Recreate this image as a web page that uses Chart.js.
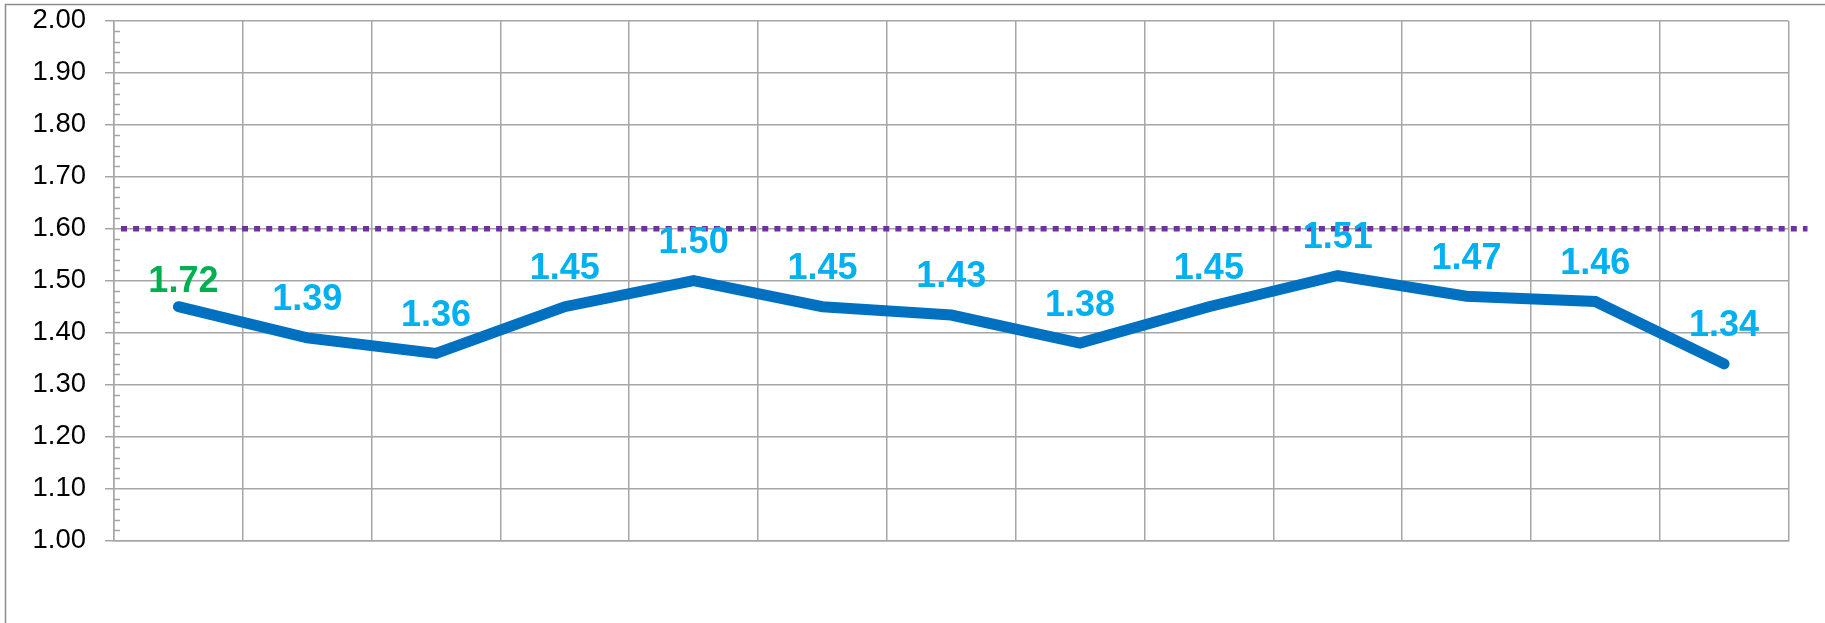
<!DOCTYPE html>
<html lang="en">
<head>
    <meta charset="UTF-8">
    <title>Line chart with target</title>
    <script src="https://cdn.jsdelivr.net/npm/chart.js"></script>
    <style>
        html, body {
            margin: 0;
            padding: 0;
            background: #fff;
        }
        #chart-container {
            width: 1825px;
            height: 623px;
            position: relative;
        }
    </style>
</head>
<body>
    <div id="chart-container">
        <canvas id="chart"></canvas>
    </div>
    <script type="text/javascript">
        // data
        const categories = ['1', '2', '3', '4', '5', '6', '7', '8', '9', '10', '11', '12', '13'];
        const values = [1.45, 1.39, 1.36, 1.45, 1.50, 1.45, 1.434, 1.38, 1.45, 1.51, 1.47, 1.46, 1.34];
        const pointLabels = ['1.72', '1.39', '1.36', '1.45', '1.50', '1.45', '1.43', '1.38', '1.45', '1.51', '1.47', '1.46', '1.34'];
        const targetValue = 1.6;
        const yTicks = ['1.00', '1.10', '1.20', '1.30', '1.40', '1.50', '1.60', '1.70', '1.80', '1.90', '2.00'];

        const gridColor = '#a6a6a6';
        const labelColors = pointLabels.map((l, i) => i === 0 ? '#00b050' : '#00b0f0');
        const labelLift = pointLabels.map((l, i) => i === 0 ? 25 : 37.5);

        // outer frame of the chart
        const framePlugin = {
            id: 'frame',
            beforeDraw(chart) {
                const ctx = chart.ctx;
                ctx.save();
                ctx.strokeStyle = '#8c8c8c';
                ctx.lineWidth = 1.5;
                ctx.strokeRect(5.5, 4.5, 2000, 1000);
                ctx.restore();
            }
        };

        // small inner ticks every 0.02 on the value axis
        const minorTicks = {
            id: 'minorTicks',
            beforeDatasetsDraw(chart) {
                const y = chart.scales.y;
                const ctx = chart.ctx;
                ctx.save();
                ctx.strokeStyle = gridColor;
                ctx.lineWidth = 1.5;
                for (let k = 0; k <= 50; k++) {
                    if (k % 5 === 0) continue;
                    const py = Math.round(y.getPixelForValue(1 + k * 0.02)) + 0.5;
                    ctx.beginPath();
                    ctx.moveTo(chart.chartArea.left, py);
                    ctx.lineTo(chart.chartArea.left + 6, py);
                    ctx.stroke();
                }
                ctx.restore();
            }
        };

        // dotted target line + value labels
        const overlays = {
            id: 'overlays',
            afterDatasetsDraw(chart) {
                const ctx = chart.ctx;
                const area = chart.chartArea;
                const ty = chart.scales.y.getPixelForValue(targetValue);
                ctx.save();
                ctx.strokeStyle = '#7030a0';
                ctx.lineWidth = 5.5;
                ctx.setLineDash([6, 6.1]);
                ctx.beginPath();
                ctx.moveTo(area.left + 7, ty);
                ctx.lineTo(area.right + 19, ty);
                ctx.stroke();
                ctx.setLineDash([]);

                const meta = chart.getDatasetMeta(0);
                ctx.font = 'bold 36px "Liberation Sans", Arial, sans-serif';
                ctx.textAlign = 'center';
                ctx.textBaseline = 'middle';
                meta.data.forEach((pt, i) => {
                    ctx.fillStyle = labelColors[i];
                    ctx.fillText(pointLabels[i], pt.x + (i === 0 ? 5 : 0), pt.y - labelLift[i]);
                });
                ctx.restore();
            }
        };

        const ctx = document.getElementById('chart').getContext('2d');
        const chart = new Chart(ctx, {
            type: 'line',
            data: {
                labels: categories,
                datasets: [{
                    data: values,
                    borderColor: '#0070c0',
                    borderWidth: 11,
                    borderCapStyle: 'round',
                    borderJoinStyle: 'miter',
                    pointRadius: 0,
                    pointHoverRadius: 0,
                    tension: 0,
                    fill: false
                }]
            },
            options: {
                responsive: true,
                maintainAspectRatio: false,
                animation: false,
                devicePixelRatio: 1,
                layout: {
                    padding: { left: 0, right: 36.5, top: 20.7, bottom: 0 }
                },
                plugins: {
                    legend: { display: false },
                    tooltip: { enabled: false }
                },
                scales: {
                    x: {
                        offset: true,
                        grid: {
                            offset: true,
                            color: gridColor,
                            lineWidth: 1.5,
                            drawTicks: false
                        },
                        border: { color: gridColor, width: 1.5 },
                        ticks: { display: false },
                        afterFit: (s) => { s.height = 82.3; s.paddingLeft = 0; s.paddingRight = 0; }
                    },
                    y: {
                        min: 1,
                        max: 2,
                        grid: {
                            color: gridColor,
                            lineWidth: 1.5,
                            tickLength: 9
                        },
                        border: { color: gridColor, width: 1.5 },
                        ticks: {
                            stepSize: 0.1,
                            padding: 19,
                            color: '#000',
                            font: { family: '"Liberation Sans", Arial, sans-serif', size: 27.5 },
                            callback: (v, i) => yTicks[i]
                        },
                        afterFit: (s) => { s.width = 114; s.paddingTop = 0; s.paddingBottom = 0; }
                    }
                }
            },
            plugins: [framePlugin, minorTicks, overlays]
        });
    </script>
</body>
</html>
